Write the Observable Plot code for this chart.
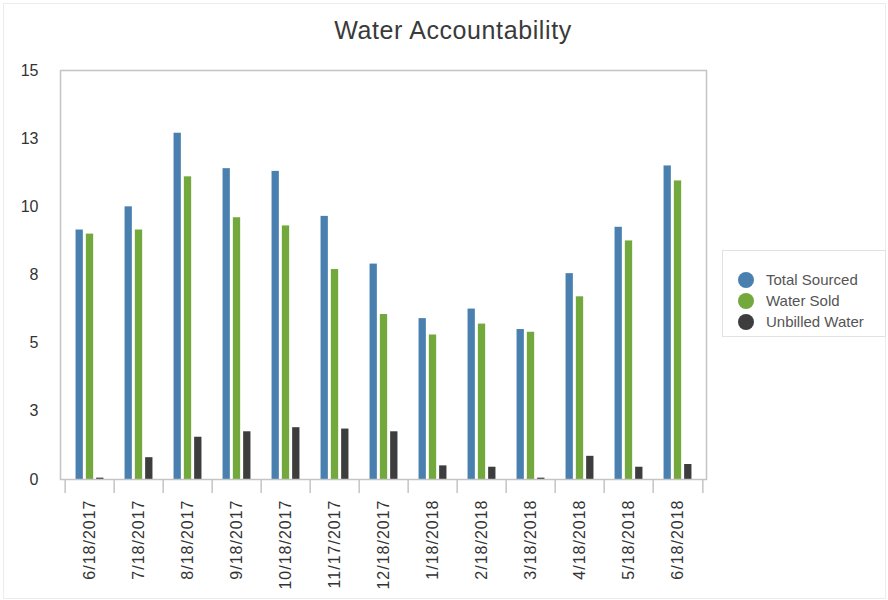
<!DOCTYPE html>
<html>
<head>
<meta charset="utf-8">
<script src="https://cdn.jsdelivr.net/npm/d3@7"></script>
<script src="https://cdn.jsdelivr.net/npm/@observablehq/plot@0.6"></script>
<style>
  html, body { margin: 0; padding: 0; background: #fff; }
  body { font-family: "Liberation Sans", Arial, sans-serif; }
  #page { position: relative; width: 888px; height: 600px; overflow: hidden; }
  #edge { position: absolute; left: 3px; top: 3px; width: 881px; height: 594px; border: 1px solid #ececec; pointer-events: none; }
  #title { height: 50px; box-sizing: border-box; padding-top: 18px; padding-left: 18px; text-align: center;
           font-size: 25px; line-height: 25px; letter-spacing: 0.6px; color: #3a3a3a; }
  #chart { position: absolute; left: 0; top: 50px; }
  #chart g[aria-label="x-axis tick label"] text { letter-spacing: 1px; }
  #legend { position: absolute; left: 722px; top: 250px; width: 164px; height: 87px; box-sizing: border-box;
            border: 1px solid #e2e2e2; padding: 18px 0 0 15px; }
  .item { display: flex; align-items: center; height: 21px; font-size: 15px; color: #555; }
  .dot { width: 16px; height: 16px; border-radius: 50%; margin-right: 12px; flex: none; }
</style>
</head>
<body>
<div id="page">
  <div id="edge"></div>
  <div id="title">Water Accountability</div>
  <div id="chart"></div>
  <div id="legend"></div>
</div>
<script>
// Monthly readings
const dates = ["6/18/2017", "7/18/2017", "8/18/2017", "9/18/2017", "10/18/2017", "11/17/2017", "12/18/2017",
               "1/18/2018", "2/18/2018", "3/18/2018", "4/18/2018", "5/18/2018", "6/18/2018"];
const totalSourced = [9.15, 10.0, 12.7, 11.4, 11.3, 9.65, 7.9, 5.9, 6.25, 5.5, 7.55, 9.25, 11.5];
const waterSold    = [9.0, 9.15, 11.1, 9.6, 9.3, 7.7, 6.05, 5.3, 5.7, 5.4, 6.7, 8.75, 10.95];
const unbilled     = [0.05, 0.8, 1.55, 1.75, 1.9, 1.85, 1.75, 0.5, 0.45, 0.05, 0.85, 0.45, 0.55];

const seriesNames = ["Total Sourced", "Water Sold", "Unbilled Water"];
const seriesColors = ["#4a80b0", "#73a83c", "#3d3d3d"];
const seriesValues = [totalSourced, waterSold, unbilled];
const yTicks = [0, 2.5, 5, 7.5, 10, 12.5, 15];

// Chart geometry
const W = 720, H = 550, mL = 60, mR = 14, mT = 20, mB = 121;
const step = (W - mL - mR) / dates.length;
const barW = 8, barGap = 10.3;
const gray = "#c4c4c4";

const barMarks = seriesValues.map((vals, s) =>
  Plot.barY(dates.map((d, i) => ({date: d, value: vals[i]})), {
    x: "date",
    y: "value",
    fill: seriesColors[s],
    insetLeft: (step - barW) / 2,
    insetRight: (step - barW) / 2,
    dx: (s - 1) * barGap
  })
);

const chart = Plot.plot({
  width: W,
  height: H,
  marginLeft: mL,
  marginRight: mR,
  marginTop: mT,
  marginBottom: mB,
  style: {fontFamily: "'Liberation Sans', Arial, sans-serif", fontSize: "16px", color: "#333", background: "transparent"},
  x: {domain: dates, padding: 0, axis: null},
  y: {domain: [0, 15], axis: null},
  marks: [
    ...barMarks,
    Plot.frame({stroke: gray, strokeWidth: 1.5}),
    // separators between months below the baseline
    Plot.axisX({ticks: dates, tickSize: 14, text: null, label: null, dx: -step / 2, stroke: gray, strokeWidth: 1.5}),
    Plot.axisX({ticks: [dates[dates.length - 1]], tickSize: 14, text: null, label: null, dx: step / 2, stroke: gray, strokeWidth: 1.5}),
    Plot.axisX({ticks: dates, tickSize: 0, tickPadding: 20, tickRotate: -90, label: null, fill: "#333", fontSize: 16}),
    Plot.axisY({ticks: yTicks, tickSize: 0, tickPadding: 22, label: null, tickFormat: d => String(Math.round(d)), fill: "#333", fontSize: 16})
  ]
});
document.getElementById("chart").appendChild(chart);

// Legend
const legend = document.getElementById("legend");
seriesNames.forEach((name, i) => {
  const row = document.createElement("div");
  row.className = "item";
  const dot = document.createElement("span");
  dot.className = "dot";
  dot.style.background = seriesColors[i];
  row.appendChild(dot);
  row.appendChild(document.createTextNode(name));
  legend.appendChild(row);
});
</script>
</body>
</html>
